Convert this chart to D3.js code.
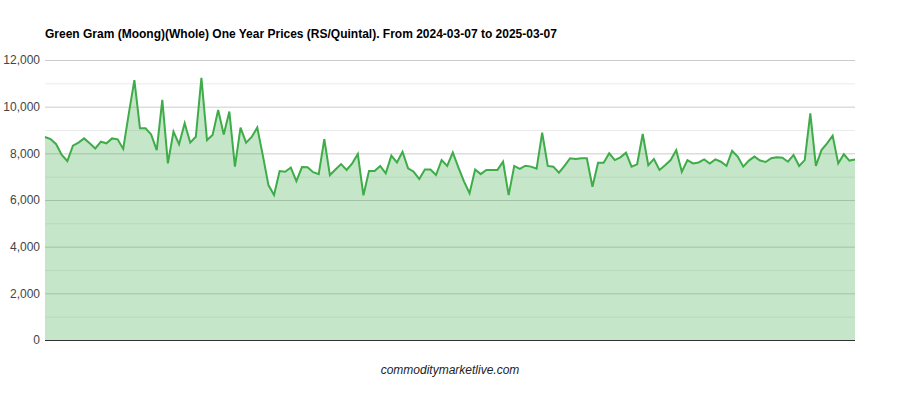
<!DOCTYPE html>
<html>
<head>
<meta charset="utf-8">
<title>Green Gram one year prices</title>
<script src="https://d3js.org/d3.v7.min.js"></script>
<style>
  body { margin: 0; background: #fff; }
  text { font-family: Arial, "Liberation Sans", sans-serif; }
</style>
</head>
<body>
<svg width="900" height="400" id="mainsvg"></svg>
<script>
// prices, one per trading day shown (evenly spaced)
const prices = [
  8700, 8610, 8390, 7930, 7670, 8330, 8460, 8640, 8430, 8210,
  8500, 8430, 8640, 8600, 8190, 9700, 11140, 9070, 9070, 8810,
  8140, 10290, 7570, 8930, 8390, 9290, 8460, 8710, 11240, 8570,
  8790, 9860, 8810, 9790, 7430, 9100, 8460, 8700, 9110, 7900,
  6640, 6210, 7240, 7210, 7390, 6810, 7410, 7400, 7190, 7110,
  8610, 7070, 7310, 7540, 7290, 7570, 7970, 6200, 7240, 7240,
  7460, 7140, 7900, 7610, 8070, 7360, 7210, 6900, 7310, 7310,
  7070, 7710, 7460, 8040, 7400, 6800, 6290, 7310, 7110, 7290,
  7290, 7290, 7640, 6210, 7460, 7330, 7470, 7430, 7340, 8890,
  7460, 7430, 7170, 7460, 7790, 7760, 7790, 7790, 6570, 7600,
  7600, 8000, 7710, 7830, 8030, 7430, 7530, 8830, 7490, 7760,
  7290, 7490, 7710, 8140, 7210, 7710, 7570, 7610, 7740, 7560,
  7740, 7640, 7460, 8110, 7860, 7430, 7690, 7860, 7690, 7630,
  7790, 7830, 7810, 7640, 7930, 7460, 7710, 9710, 7460, 8140,
  8430, 8760, 7570, 7960, 7690, 7740
];
const majorTicks = [0, 2000, 4000, 6000, 8000, 10000, 12000];
const minorTicks = [1000, 3000, 5000, 7000, 9000, 11000];
const titleText = 'Green Gram (Moong)(Whole) One Year Prices (RS/Quintal). From 2024-03-07 to 2025-03-07';
const footerText = 'commoditymarketlive.com';

const svg = d3.select('#mainsvg');
const margin = {top: 60, right: 45, bottom: 60, left: 45};
const width = +svg.attr('width');
const height = +svg.attr('height');
const innerWidth = width - margin.left - margin.right;
const innerHeight = height - margin.top - margin.bottom;

const g = svg.append('g').attr('transform', `translate(${margin.left},${margin.top})`);

const x = d3.scaleLinear().domain([0, prices.length - 1]).range([0, innerWidth]);
const y = d3.scaleLinear().domain([0, 12000]).range([innerHeight, 0]);

// gridlines
g.append('g').selectAll('line').data(minorTicks).join('line')
  .attr('x1', 0).attr('x2', innerWidth)
  .attr('y1', d => y(d) + 0.5).attr('y2', d => y(d) + 0.5)
  .attr('stroke', '#ebebeb');
g.append('g').selectAll('line').data(majorTicks.filter(d => d > 0)).join('line')
  .attr('x1', 0).attr('x2', innerWidth)
  .attr('y1', d => y(d) + 0.5).attr('y2', d => y(d) + 0.5)
  .attr('stroke', '#cccccc');

// y axis labels
const yaxis = d3.axisLeft(y).tickValues(majorTicks).tickSize(0).tickPadding(5)
  .tickFormat(d3.format(','));
const ya = g.append('g').call(yaxis);
ya.select('.domain').remove();
ya.selectAll('text').attr('font-size', 12).attr('fill', '#444')
  .attr('font-family', 'Arial, "Liberation Sans", sans-serif');

const green = '#3eac48';

g.append('path').datum(prices)
  .attr('fill', green).attr('fill-opacity', 0.3)
  .attr('d', d3.area().x((d, i) => x(i)).y0(y(0)).y1(d => y(d)));

g.append('path').datum(prices)
  .attr('fill', 'none').attr('stroke', green).attr('stroke-width', 2)
  .attr('stroke-linejoin', 'miter')
  .attr('d', d3.line().x((d, i) => x(i)).y(d => y(d)));

// baseline
g.append('line')
  .attr('x1', 0).attr('x2', innerWidth)
  .attr('y1', y(0) + 0.5).attr('y2', y(0) + 0.5)
  .attr('stroke', '#333');

svg.append('text')
  .attr('x', margin.left).attr('y', 38)
  .attr('font-size', 12).attr('font-weight', 'bold').attr('fill', '#000')
  .text(titleText);

svg.append('text')
  .attr('x', 450).attr('y', 374)
  .attr('text-anchor', 'middle')
  .attr('font-size', 12).attr('font-style', 'italic').attr('fill', '#222')
  .text(footerText);
</script>
</body>
</html>
